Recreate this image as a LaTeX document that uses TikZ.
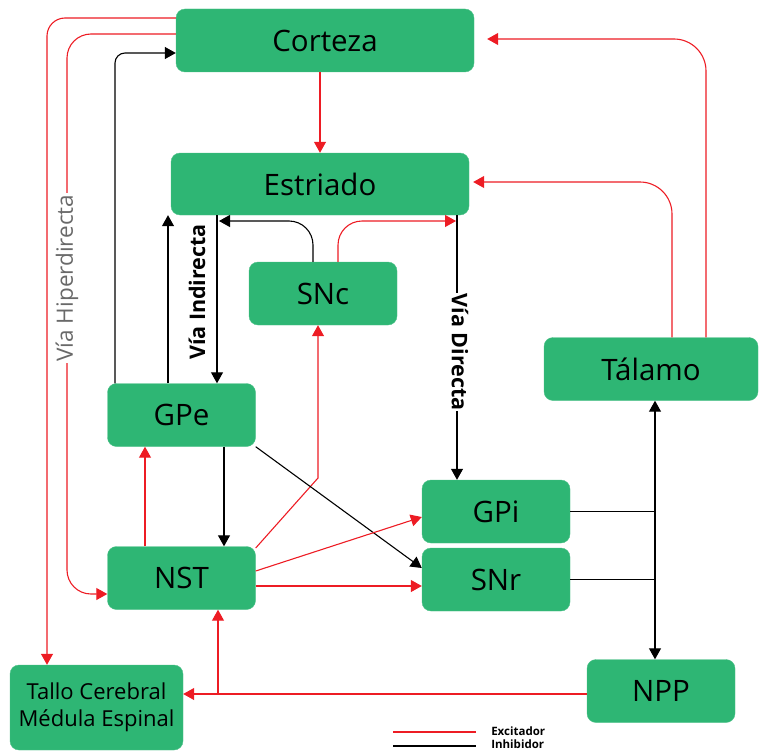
\documentclass[tikz,border=0pt]{standalone}
\usepackage{fontspec}
\setmainfont{Open Sans}
\usetikzlibrary{arrows.meta,positioning,calc}
\definecolor{nucgreen}{RGB}{46,182,116}
\definecolor{excred}{RGB}{237,28,36}
\definecolor{hipergray}{RGB}{105,105,105}
\tikzset{
  nucleus/.style={rectangle, rounded corners=9pt, fill=nucgreen, draw=nucgreen!85!white,
                  minimum width=148pt, minimum height=63pt, inner sep=0pt,
                  font=\fontsize{29.5}{33}\selectfont, text centered, align=center},
  arr/.style={-{Triangle[length=11pt,width=12pt]}, line width=1.1pt, #1},
  dblarr/.style={{Triangle[length=11pt,width=12pt]}-{Triangle[length=11pt,width=12pt]}, line width=1.1pt, #1},
  link/.style={line width=1.1pt, #1},
  pathlabel/.style={font=\fontsize{21.5}{24}\selectfont\bfseries, fill=white, inner sep=1pt},
  legendtext/.style={font=\fontsize{11.5}{12}\selectfont\bfseries, anchor=west, inner sep=0pt, text=black},
}

\begin{document}
\begin{tikzpicture}[x=1pt,y=-1pt]
  \useasboundingbox (0,0) rectangle (760,752);

  % nuclei
  \node[nucleus, minimum width=298pt] (corteza) at (325,40.5) {Corteza};
  \node[nucleus, minimum width=298pt, minimum height=62pt] (estriado) at (320,184) {Estriado};
  \node[nucleus] (snc) at (323,293.5) {SNc};
  \node[nucleus] (gpe) at (181.5,415) {GPe};
  \node[nucleus, minimum width=214pt] (talamo) at (651,369) {Tálamo};
  \node[nucleus] (gpi) at (496,511.5) {GPi};
  \node[nucleus] (snr) at (496,579.5) {SNr};
  \node[nucleus] (nst) at (181.5,578) {NST};
  \node[nucleus] (npp) at (661,691) {NPP};
  \node[nucleus, minimum width=173pt, minimum height=85pt, font=\fontsize{22}{27}\selectfont]
        (tallo) at (96.5,707.5) {Tallo Cerebral\\Médula Espinal};

  % via hiperdirecta
  \draw[arr=excred, rounded corners=18pt]
        (corteza.west |- 0,18) -- (47,18) -- (tallo.north -| 47,0);
  \draw[arr=excred, rounded corners=24pt]
        (corteza.west |- 0,34) -- (67,34) -- (67,594) -- (nst.west |- 0,594);
  \node[rotate=90, fill=white, inner sep=2pt, text=hipergray,
        font=\fontsize{22.5}{26}\selectfont] (hiper) at (67,278) {Vía Hiperdirecta};
  \draw[arr=black, rounded corners=10pt]
        (gpe.north -| 115,0) -- (115,53) -- (corteza.west |- 0,53);

  \draw[arr=excred] (corteza.south -| 320,0) -- (estriado.north -| 320,0);

  % via indirecta
  \draw[arr=black] (gpe.north -| 168,0) -- (estriado.south -| 168,0);
  \draw[arr=black] (estriado.south -| 217,0) -- (gpe.north -| 217,0);
  \node[pathlabel, rotate=90, fill=none] (indirecta) at (197,292) {Vía Indirecta};

  % dopamina
  \coordinate (d2end) at (219,221);
  \coordinate (d1end) at (456,221);
  \draw[arr=black, rounded corners=24pt] (snc.north -| 313,0) -- (313,221) -- (d2end);
  \draw[arr=excred, rounded corners=24pt] (snc.north -| 338,0) -- (338,221) -- (d1end);

  % via directa
  \draw[arr=black] (estriado.south -| 457,0) -- (gpi.north -| 457,0);
  \node[pathlabel, rotate=-90] (directa) at (460,352) {Vía Directa};

  % NST y GPe
  \draw[arr=excred] (nst.north -| 145,0) -- (gpe.south -| 145,0);
  \draw[arr=black] (gpe.south -| 224,0) -- (nst.north -| 224,0);
  \draw[arr=excred] (nst.north east |- 0,548) -- (318,478) -- (snc.south -| 318,0);
  \draw[arr=black] (gpe.south east) -- (snr.west |- 0,568);
  \draw[arr=excred] (nst.east |- 0,571) -- (gpi.west |- 0,517);
  \draw[arr=excred] (nst.east |- 0,586) -- (snr.west |- 0,586);

  % salidas
  \coordinate (outbus) at (655,0);
  \draw[link=black] (gpi.east) -- (gpi.east -| outbus);
  \draw[link=black] (snr.east) -- (snr.east -| outbus);
  \draw[dblarr=black] (talamo.south -| outbus) -- (npp.north -| outbus);
  \draw[arr=excred] (npp.west |- 0,694) -- (tallo.east |- 0,694);
  \draw[arr=excred] (218,694) -- (nst.south -| 218,0);

  % talamo
  \draw[arr=excred, rounded corners=32pt]
        (talamo.north -| 672,0) -- (672,182) -- ([xshift=4pt]estriado.east |- 0,182);
  \draw[arr=excred, rounded corners=32pt]
        (talamo.north -| 706,0) -- (706,39) -- ([xshift=13pt]corteza.east |- 0,39);

  % leyenda
  \draw[link=excred, line width=2.6pt] (393,732) -- (476,732)
        node[legendtext] (exc) at (490,731) {Excitador};
  \draw[link=black, line width=2.6pt] (393,746) -- (476,746)
        node[legendtext] (inh) at (490,744) {Inhibidor};
\end{tikzpicture}
\end{document}
